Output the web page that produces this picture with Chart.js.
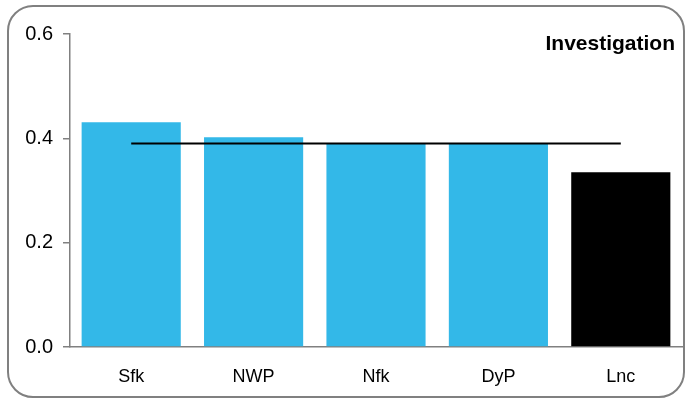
<!DOCTYPE html>
<html>
<head>
<meta charset="utf-8">
<script src="https://cdn.jsdelivr.net/npm/chart.js@4"></script>
<style>
  body { margin: 0; background: #fff; }
  #frame {
    position: absolute; left: 7px; top: 5px; width: 674px; height: 389px;
    border: 2px solid #808080; border-radius: 26px; pointer-events: none;
  }
  #myChart { position: absolute; left: 0; top: 0; }
</style>
</head>
<body>
<canvas id="myChart" width="686" height="399"></canvas>
<div id="frame"></div>
<script>
let categories = ['Sfk', 'NWP', 'Nfk', 'DyP', 'Lnc'];
let scores = [0.431, 0.402, 0.389, 0.389, 0.335];
let average = [0.39, 0.39, 0.39, 0.39, 0.39];
let yTicks = [0.0, 0.2, 0.4, 0.6];
let chartTitle = 'Investigation';

let barColors = categories.map(function (c, i) {
    return i === categories.length - 1 ? '#000000' : '#33B8E8';
});

let titlePlugin = {
    id: 'cornerTitle',
    afterDraw: function (chart) {
        let ctx = chart.ctx;
        ctx.save();
        ctx.font = 'bold 21px "Liberation Sans", Arial, sans-serif';
        ctx.fillStyle = '#000';
        ctx.textAlign = 'right';
        ctx.textBaseline = 'middle';
        ctx.fillText(chartTitle, 675, 44);
        ctx.restore();
    }
};

var ctx = document.getElementById('myChart').getContext('2d');
var myChart = new Chart(ctx, {
    data: {
        labels: categories,
        datasets: [
            {
                type: 'line',
                label: 'Average',
                data: average,
                borderColor: '#000',
                borderWidth: 2,
                pointRadius: 0,
                order: 0
            },
            {
                type: 'bar',
                label: 'Score',
                data: scores,
                backgroundColor: barColors,
                barPercentage: 0.81,
                categoryPercentage: 1,
                order: 1
            }
        ]
    },
    options: {
        responsive: false,
        animation: false,
        layout: { padding: { top: 34, right: 4, left: 0, bottom: 0 } },
        plugins: {
            legend: { display: false },
            tooltip: { enabled: false }
        },
        scales: {
            x: {
                grid: { display: false },
                border: { display: true, color: '#808080', width: 1.5 },
                ticks: {
                    color: '#000',
                    padding: 11,
                    font: { family: '"Liberation Sans", Arial, sans-serif', size: 18 }
                },
                afterFit: function (axis) { axis.height = 52; }
            },
            y: {
                min: 0,
                max: 0.6,
                afterBuildTicks: function (axis) {
                    axis.ticks = yTicks.map(function (v) { return { value: v }; });
                },
                grid: {
                    drawOnChartArea: false,
                    drawTicks: true,
                    tickLength: 7,
                    color: '#808080',
                    lineWidth: 1.5
                },
                border: { display: true, color: '#808080', width: 1.5 },
                ticks: {
                    color: '#000',
                    padding: 10,
                    font: { family: '"Liberation Sans", Arial, sans-serif', size: 20 },
                    callback: function (v) { return Number(v).toFixed(1); }
                },
                afterFit: function (axis) { axis.width = 70; }
            }
        }
    },
    plugins: [titlePlugin]
});
</script>
</body>
</html>
